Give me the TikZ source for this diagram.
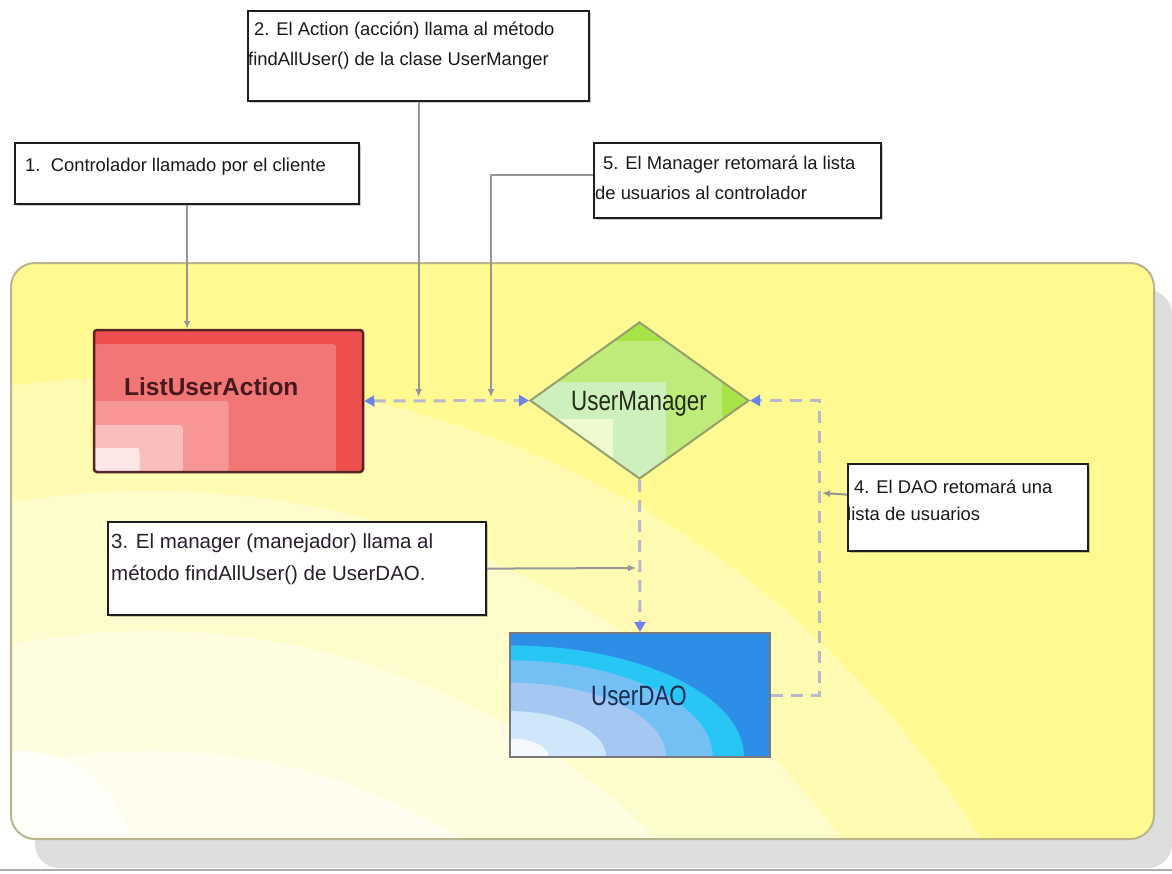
\documentclass[tikz,border=0pt]{standalone}
\usepackage{fontspec}
\setmainfont{Liberation Sans}
\newfontfamily\narrowsans[FakeStretch=0.8]{Liberation Sans}
\usetikzlibrary{arrows.meta,shapes.geometric,shadows,calc}

% palette
\definecolor{txt}{RGB}{25,25,25}
\definecolor{boxline}{RGB}{30,30,30}
\definecolor{panelfill}{RGB}{255,250,145}
\definecolor{panelline}{RGB}{185,180,140}
\definecolor{panelshade}{RGB}{222,222,222}
\definecolor{bandA}{RGB}{255,251,178}
\definecolor{bandB}{RGB}{255,252,204}
\definecolor{bandC}{RGB}{255,253,224}
\definecolor{bandD}{RGB}{255,254,238}
\definecolor{bandE}{RGB}{255,255,250}
\definecolor{luaA}{RGB}{238,78,78}
\definecolor{luaB}{RGB}{243,118,118}
\definecolor{luaC}{RGB}{246,150,150}
\definecolor{luaD}{RGB}{249,190,190}
\definecolor{luaE}{RGB}{252,230,230}
\definecolor{lualine}{RGB}{90,35,35}
\definecolor{luatxt}{RGB}{70,25,30}
\definecolor{umA}{RGB}{168,228,72}
\definecolor{umB}{RGB}{190,235,122}
\definecolor{umC}{RGB}{205,240,188}
\definecolor{umD}{RGB}{240,250,208}
\definecolor{umline}{RGB}{150,160,110}
\definecolor{umtxt}{RGB}{35,45,25}
\definecolor{daoA}{RGB}{45,142,232}
\definecolor{daoB}{RGB}{40,198,245}
\definecolor{daoC}{RGB}{115,192,245}
\definecolor{daoD}{RGB}{165,200,242}
\definecolor{daoE}{RGB}{208,230,250}
\definecolor{daoF}{RGB}{245,249,255}
\definecolor{daoline}{RGB}{120,120,125}
\definecolor{daotxt}{RGB}{25,45,85}
\definecolor{conn}{RGB}{150,150,150}
\definecolor{dashc}{RGB}{185,185,205}
\definecolor{tipblue}{RGB}{110,130,235}

\begin{document}
\begin{tikzpicture}[x=1pt,y=-1pt,
  notebox/.style={draw=boxline, line width=2.2pt, fill=white, inner sep=0pt,
    anchor=north west,
    drop shadow={shadow xshift=1.5pt,shadow yshift=-1.5pt,opacity=0.2,fill=black}},
  notetext/.style={anchor=base west, inner sep=0pt, text=txt,
    font=\fontsize{18.4}{22}\selectfont},
  pointer/.style={draw=conn, line width=2pt, -{Latex[length=8pt,width=7pt]}},
  flow/.style={draw=dashc, line width=3pt, dash pattern=on 12pt off 8pt},
  bluetip/.tip={Triangle[length=10pt,width=11pt,color=tipblue]},
]
\useasboundingbox (0,0) rectangle (1172,873);
\fill[white] (0,0) rectangle (1172,873);

% shadow under the container and the bottom rule
\fill[panelshade, rounded corners=24pt] (35,290) rectangle (1172,868);
\draw[gray!65, line width=2pt] (0,869.5) -- (1172,869.5);

% container with its soft light bands
\node[draw=panelline, line width=2pt, rounded corners=24pt, anchor=north west,
  inner sep=0pt, minimum width=1143pt, minimum height=576pt, fill=panelfill,
  path picture={
    \foreach \r/\c in {975/bandA,860/bandB,720/bandC,600/bandD}
      \fill[\c] ($(path picture bounding box.south west)+(140,512)$) circle [radius=\r pt];
    \fill[bandE] ($(path picture bounding box.south west)+(10,22)$) circle [radius=110pt];
  }] (panel) at (10,262) {};

% note boxes
\node[notebox, minimum width=341pt, minimum height=90pt] (box2) at (247,10) {};
\node[notebox, minimum width=344pt, minimum height=61pt] (box1) at (14,142) {};
\node[notebox, minimum width=287pt, minimum height=75pt] (box5) at (593,142) {};
\node[notebox, minimum width=378pt, minimum height=93pt] (box3) at (107,521) {};
\node[notebox, minimum width=240pt, minimum height=87pt] (box4) at (847,463) {};

\node[notetext] (t2a) at (254,35) {2. El Action (acción) llama al método};
\node[notetext] (t2b) at (248,65) {findAllUser() de la clase UserManger};
\node[notetext] (t1) at (25,171) {1.\ \ Controlador llamado por el cliente};
\node[notetext] (t5a) at (603,169) {5. El Manager retomará la lista};
\node[notetext] (t5b) at (595,199) {de usuarios al controlador};
\node[notetext, font=\fontsize{20.5}{24}\selectfont, text={rgb,255:red,40;green,30;blue,45}] (t3a) at (111,548) {3. El manager (manejador) llama al};
\node[notetext, font=\fontsize{20.5}{24}\selectfont, text={rgb,255:red,40;green,30;blue,45}] (t3b) at (111,580) {método findAllUser() de UserDAO.};
\node[notetext] (t4a) at (854,493) {4. El DAO retomará una};
\node[notetext] (t4b) at (847,520) {lista de usuarios};

% ListUserAction
\node[draw=lualine, line width=2.5pt, rounded corners=3pt, inner sep=0pt,
  minimum width=269pt, minimum height=142pt,
  path picture={
    \fill[luaA] (path picture bounding box.south west) rectangle (path picture bounding box.north east);
    \foreach \f/\c in {0.9/luaB,0.5/luaC,0.33/luaD,0.17/luaE}
      \fill[\c] (path picture bounding box.south west) rectangle
        ($(path picture bounding box.south west)!\f!(path picture bounding box.north east)$);
  }] (lua) at (228.5,401) {};
\node[anchor=base west, inner sep=0pt, text=luatxt,
  font=\bfseries\fontsize{24.5}{28}\selectfont] (lua-label) at (124,395) {ListUserAction};

% UserManager
\node[diamond, draw=umline, line width=2pt, inner sep=0pt,
  minimum width=219pt, minimum height=157pt,
  path picture={
    \fill[umA] (path picture bounding box.south west) rectangle (path picture bounding box.north east);
    \foreach \f/\c in {0.88/umB,0.62/umC,0.38/umD}
      \fill[\c] (path picture bounding box.south west) rectangle
        ($(path picture bounding box.south west)!\f!(path picture bounding box.north east)$);
  }] (um) at (639.5,400.5) {};
\node[anchor=base, inner sep=0pt, text=umtxt,
  font=\narrowsans\fontsize{28}{32}\selectfont] (um-label) at (639,410) {UserManager};

% UserDAO
\node[draw=daoline, line width=2pt, inner sep=0pt,
  minimum width=260pt, minimum height=124pt,
  path picture={
    \fill[daoA] (path picture bounding box.south west) rectangle (path picture bounding box.north east);
    \foreach \f/\c in {0.9/daoB,0.78/daoC,0.6/daoD,0.37/daoE,0.15/daoF}
      \fill[\c] (path picture bounding box.south west) ellipse [x radius=\f*260pt, y radius=\f*124pt];
  }] (dao) at (640,695) {};
\node[anchor=base, inner sep=0pt, text=daotxt,
  font=\narrowsans\fontsize{28}{32}\selectfont] (dao-label) at (639,705) {UserDAO};

% free ends of the pointers from the notes
\coordinate (hit2) at (box2.south |- 0,397);
\coordinate (hit5) at (491,397);
\coordinate (hit3) at (636,568);
\coordinate (hit4) at (822,493);
\coordinate (bend) at (um.east -| 819,0);

% pointers from the notes
\draw[pointer] (box1.south) -- (box1.south |- lua.north);
\draw[pointer] (box2.south) -- (hit2);
\draw[pointer] ([yshift=6pt]box5.west) -| (hit5);
\draw[pointer] (box3.east) -- (hit3);
\draw[pointer] ([yshift=13pt]box4.west) -- (hit4);

% call flow between the components
\draw[flow, bluetip-bluetip] (lua.east) -- (um.west);
\draw[flow, -bluetip] (um.south) -- (dao.north);
\draw[flow, -bluetip] (dao.east) -| (bend) -- (um.east);
\end{tikzpicture}
\end{document}
